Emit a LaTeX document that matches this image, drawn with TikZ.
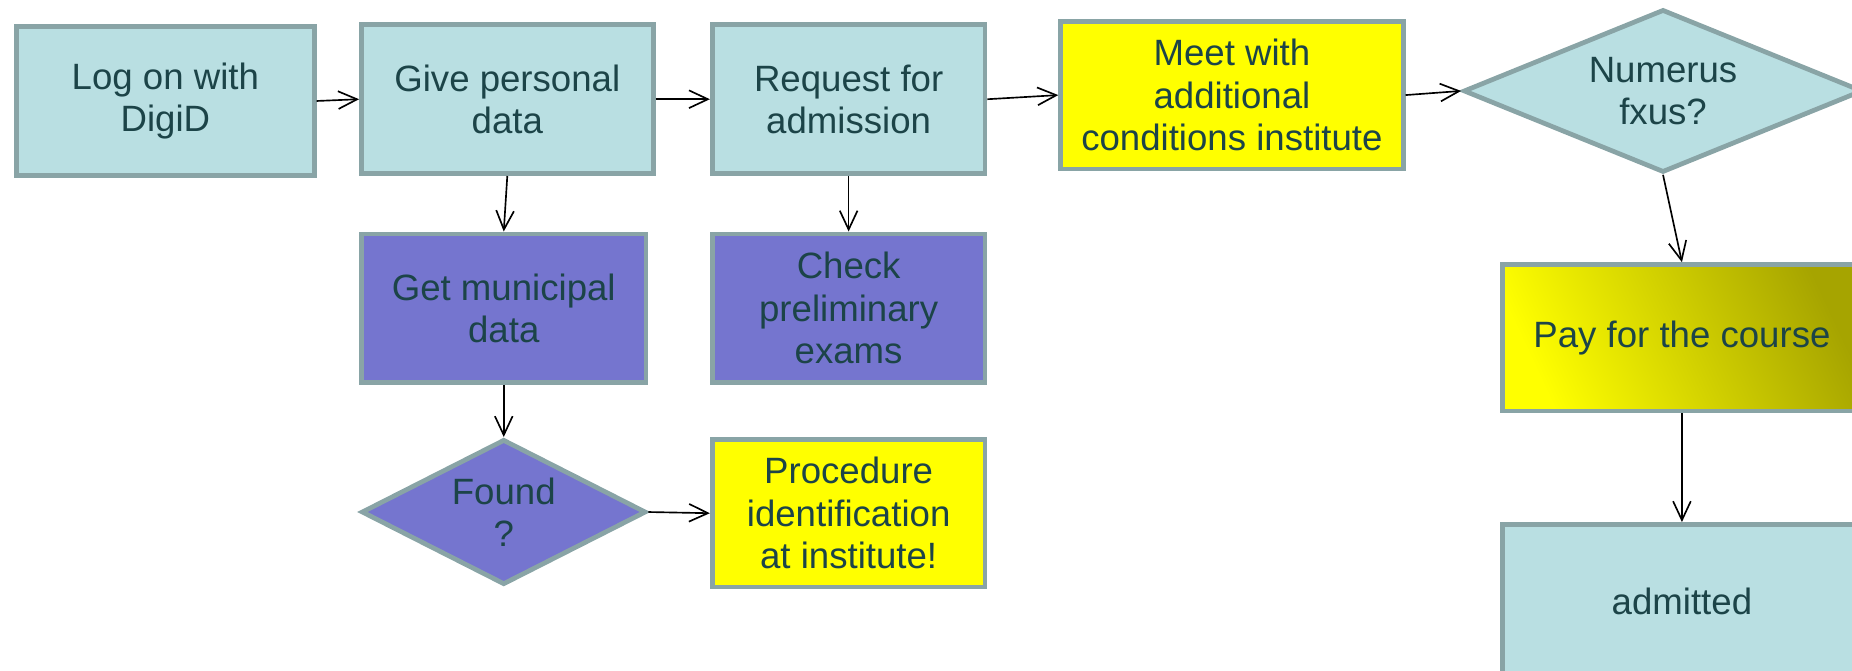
\documentclass[tikz,border=0pt]{standalone}
\usepackage{fontspec}
\setmainfont{Liberation Sans}
\usetikzlibrary{shapes.geometric,arrows.meta}
\definecolor{tealfill}{RGB}{185,223,226}
\definecolor{edgecol}{RGB}{137,164,166}
\definecolor{purp}{RGB}{117,117,207}
\definecolor{yel}{RGB}{255,255,0}
\definecolor{txtcol}{RGB}{28,68,72}
\definecolor{olivedark}{RGB}{166,164,0}
\definecolor{olivemid}{RGB}{240,240,0}
\begin{document}
\begin{tikzpicture}[x=0.5pt,y=-0.5pt,
  box/.style={draw=edgecol,line width=2pt,align=center,text=txtcol,
    font=\fontsize{15.5}{18}\selectfont,inner sep=0pt},
  dia/.style={box,diamond},
  conn/.style={-{Straight Barb[length=8pt,width=7.5pt]},line width=0.7pt,black}]
\useasboundingbox (0,0) rectangle (1568,568);
% top row
\node[box,fill=tealfill,minimum width=126pt,minimum height=63pt] (log) at (140,85.5) {Log on with\\DigiD};
\node[box,fill=tealfill,minimum width=123.5pt,minimum height=63pt] (give) at (429.5,84) {Give personal\\data};
\node[box,fill=tealfill,minimum width=115.5pt,minimum height=63pt] (req) at (718.5,84) {Request for\\admission};
\node[box,fill=yel,minimum width=145pt,minimum height=62.5pt] (meet) at (1043,80.5) {Meet with\\additional\\conditions institute};
\node[dia,aspect=2.4,fill=tealfill,minimum width=169pt,minimum height=69pt] (num) at (1408,77) {Numerus\\fxus?};
% second row
\node[box,fill=purp,minimum width=120.5pt,minimum height=63pt] (get) at (426.5,261) {Get municipal\\data};
\node[box,fill=purp,minimum width=115.5pt,minimum height=63pt] (check) at (718.5,261) {Check\\preliminary\\exams};
\node[box,left color=yel,middle color=olivemid,right color=olivedark,shading angle=115,
  minimum width=152pt,minimum height=62pt] (pay) at (1424,286) {Pay for the course};
% third row
\node[dia,aspect=1.93,fill=purp,minimum width=120.5pt,minimum height=61.5pt] (found) at (426.5,433.5) {Found\\?};
\node[box,fill=yel,minimum width=115.5pt,minimum height=62.5pt] (proc) at (718.5,434.5) {Procedure\\identification\\at institute!};
\node[box,fill=tealfill,minimum width=152pt,minimum height=65pt] (adm) at (1424,509) {admitted};
% connectors
\draw[conn] (log.east) -- (give.west);
\draw[conn] (give.east) -- (req.west);
\draw[conn] (req.east) -- (meet.west);
\draw[conn] (meet.east) -- (num.west);
\draw[conn] (give.south) -- (get.north);
\draw[conn] (req.south) -- (check.north);
\draw[conn] (get.south) -- (found.north);
\draw[conn] (found.east) -- (proc.west);
\draw[conn] (num.south) -- (pay.north);
\draw[conn] (pay.south) -- (adm.north);
\end{tikzpicture}
\end{document}
